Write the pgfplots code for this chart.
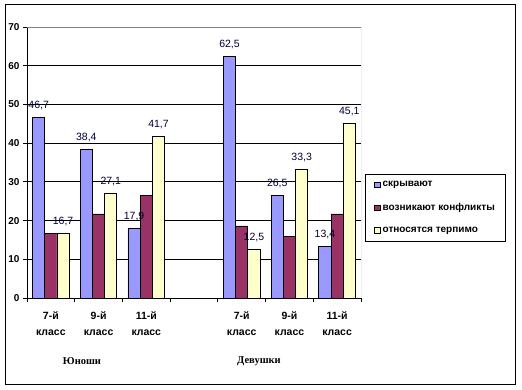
\documentclass[border=0pt]{standalone}
\usepackage{fontspec}
\setmainfont{Liberation Sans}
\newfontfamily\serifb{Liberation Serif}
\usepackage{pgfplots}
\pgfplotsset{compat=1.18}
\definecolor{sblue}{HTML}{9999FF}
\definecolor{smaroon}{HTML}{993366}
\definecolor{syellow}{HTML}{FFFFCC}
\definecolor{lblue}{HTML}{000033}
\begin{document}
\begin{tikzpicture}[x=1pt,y=1pt]
\useasboundingbox (0,0) rectangle (522,390);
\draw[line width=1pt] (5,5) rectangle (515,385);
\begin{axis}[
  at={(27pt,92pt)}, anchor=south west,
  scale only axis, width=334pt, height=271pt,
  ybar=0pt, bar width=12.2pt,
  xmin=-0.5, xmax=6.5, ymin=0, ymax=70,
  axis x line*=bottom, axis y line*=left,
  axis line style={black, line width=0.9pt},
  /pgf/number format/assume math mode=true,
  xtick={-0.5,0.5,...,6.5},
  x tick label as interval,
  xticklabels={{7-й\\класс},{9-й\\класс},{11-й\\класс},{},{7-й\\класс},{9-й\\класс},{11-й\\класс}},
  xticklabel style={align=center, font=\bfseries\fontsize{10.5}{16}\selectfont, yshift=-6pt},
  ytick={0,10,...,70},
  yticklabel style={font=\bfseries\fontsize{10}{12}\selectfont},
  ymajorgrids, grid style={black, line width=0.8pt},
  tick style={black, line width=0.8pt},
  major tick length=4pt, tick align=outside,
  legend style={at={(1.012,0.4576)}, anchor=north west, draw=black, line width=0.9pt,
    font=\bfseries\fontsize{10}{12}\selectfont, cells={anchor=west}, row sep=11pt,
    inner xsep=9pt, inner ysep=5pt},
  legend image code/.code={\draw[#1,line width=0.6pt] (0pt,-2.8pt) rectangle (5.6pt,2.8pt);},
  every node near coord/.append style={font=\fontsize{10.5}{12}\selectfont, color=lblue, inner sep=0pt, yshift=7pt},
  nodes near coords={\pgfmathprintnumber[use comma,fixed,fixed zerofill,precision=1]{\pgfplotspointmeta}},
]
\addplot[fill=sblue, draw=black, line width=0.8pt] coordinates {(0,46.7) (1,38.4) (2,17.9) (4,62.5) (5,26.5) (6,13.4)};
\addplot[fill=smaroon, draw=black, line width=0.8pt, nodes near coords={}] coordinates {(0,16.7) (1,21.7) (2,26.4) (4,18.6) (5,15.9) (6,21.7)};
\addplot[fill=syellow, draw=black, line width=0.8pt] coordinates {(0,16.7) (1,27.1) (2,41.7) (4,12.5) (5,33.3) (6,45.1)};
\legend{скрывают, возникают конфликты, относятся терпимо}
\draw[gray, line width=0.9pt] (rel axis cs:0,1) -| (rel axis cs:1,0);
\end{axis}
\node[font=\serifb\bfseries\fontsize{10.5}{12}\selectfont] at (82,29) {Юноши};
\node[font=\serifb\bfseries\fontsize{10.5}{12}\selectfont] at (259,29) {Девушки};
\end{tikzpicture}
\end{document}
